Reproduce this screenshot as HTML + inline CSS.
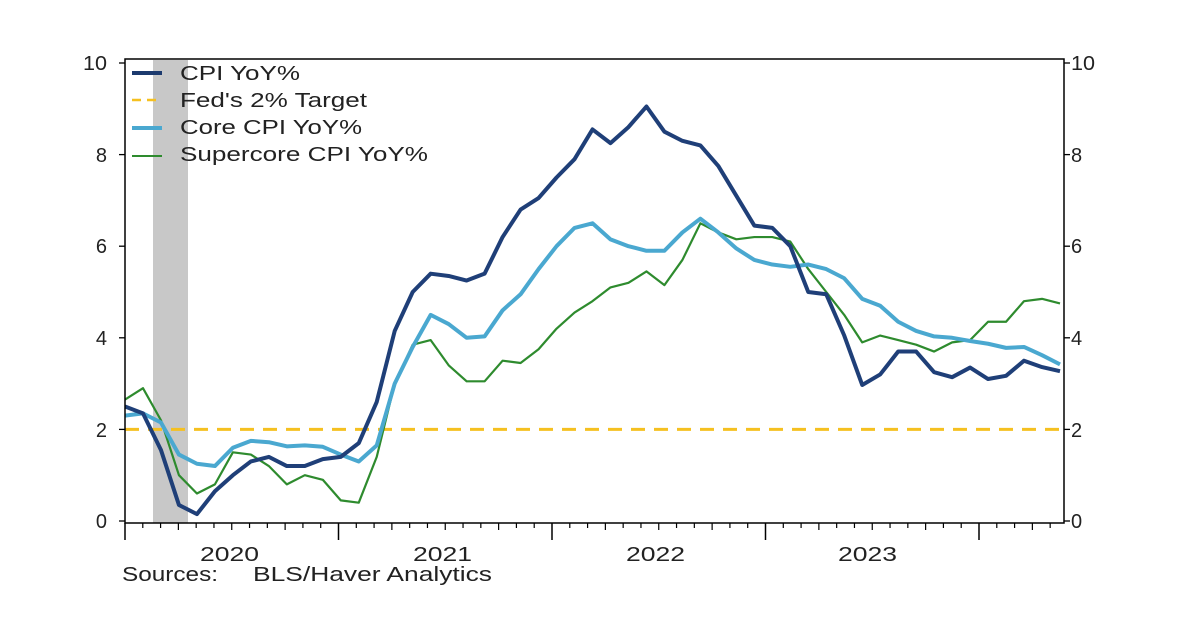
<!DOCTYPE html>
<html><head><style>
body{margin:0;background:#fff}
svg{display:block;font-family:"Liberation Sans",Arial,sans-serif}
</style></head><body>
<svg id="s" width="1200" height="627" viewBox="0 0 1200 627" xmlns="http://www.w3.org/2000/svg">
<rect width="1200" height="627" fill="#fff"/>
<rect x="153" y="60" width="35" height="463" fill="#c8c8c8"/>
<g id="g"></g>
<rect x="125" y="59" width="939" height="464" fill="none" stroke="#000" stroke-width="1.5"/>
<g font-size="20" fill="#222" lengthAdjust="spacingAndGlyphs">
<text x="107" y="70" text-anchor="end" textLength="24" lengthAdjust="spacingAndGlyphs">10</text>
<text x="107" y="162" text-anchor="end">8</text>
<text x="107" y="253" text-anchor="end">6</text>
<text x="107" y="345" text-anchor="end">4</text>
<text x="107" y="437" text-anchor="end">2</text>
<text x="107" y="528" text-anchor="end">0</text>
<text x="1071" y="70" textLength="24" lengthAdjust="spacingAndGlyphs">10</text>
<text x="1071" y="162">8</text>
<text x="1071" y="253">6</text>
<text x="1071" y="345">4</text>
<text x="1071" y="437">2</text>
<text x="1071" y="528">0</text>
<text x="200" y="561" textLength="59" lengthAdjust="spacingAndGlyphs">2020</text>
<text x="413" y="561" textLength="59" lengthAdjust="spacingAndGlyphs">2021</text>
<text x="626" y="561" textLength="59" lengthAdjust="spacingAndGlyphs">2022</text>
<text x="838" y="561" textLength="59" lengthAdjust="spacingAndGlyphs">2023</text>
<text x="122" y="581" textLength="96" lengthAdjust="spacingAndGlyphs">Sources:</text>
<text x="253" y="581" textLength="239" lengthAdjust="spacingAndGlyphs">BLS/Haver Analytics</text>
</g>
<g font-size="20" fill="#222">
<line x1="132" y1="73" x2="162" y2="73" stroke="#1c3a6e" stroke-width="4"/>
<text x="180" y="80" textLength="120" lengthAdjust="spacingAndGlyphs">CPI YoY%</text>
<line x1="132" y1="100" x2="162" y2="100" stroke="#f5c020" stroke-width="2.5" stroke-dasharray="9,6"/>
<text x="180" y="107" textLength="187" lengthAdjust="spacingAndGlyphs">Fed's 2% Target</text>
<line x1="132" y1="128" x2="162" y2="128" stroke="#4aa8d0" stroke-width="4"/>
<text x="180" y="134" textLength="182" lengthAdjust="spacingAndGlyphs">Core CPI YoY%</text>
<line x1="132" y1="156" x2="162" y2="156" stroke="#2e8b2e" stroke-width="2"/>
<text x="180" y="161" textLength="248" lengthAdjust="spacingAndGlyphs">Supercore CPI YoY%</text>
</g>
</svg>
<script>
var g=document.getElementById('g'),NS='http://www.w3.org/2000/svg';
function Y(v){return 521-v*45.8}
function X(i){return 125+i*935/52}
function el(t,a){var e=document.createElementNS(NS,t);for(var k in a)e.setAttribute(k,a[k]);g.appendChild(e);return e}
for(var v=0;v<=10;v+=2){el('line',{x1:119,y1:Y(v),x2:125,y2:Y(v),stroke:'#000','stroke-width':1.3});el('line',{x1:1064,y1:Y(v),x2:1070,y2:Y(v),stroke:'#000','stroke-width':1.3});}
var m=(979-125)/48;
for(var i=0;i<=53;i++){var x=125+i*m;if(x>1066)break;var maj=i%12==0,q=i%3==0;
el('line',{x1:x,y1:523,x2:x,y2:maj?540:(q?530:528),stroke:'#000','stroke-width':maj?1.5:1.2});}
el('line',{x1:125,y1:Y(2),x2:1062,y2:Y(2),stroke:'#f5c020','stroke-width':3,'stroke-dasharray':'14,9'});
var sc=[2.65,2.9,2.2,1.0,0.6,0.8,1.5,1.45,1.2,0.8,1.0,0.9,0.45,0.4,1.4,3.0,3.85,3.95,3.4,3.05,3.05,3.5,3.45,3.75,4.2,4.55,4.8,5.1,5.2,5.45,5.15,5.7,6.5,6.3,6.15,6.2,6.2,6.1,5.5,5.0,4.5,3.9,4.05,3.95,3.85,3.7,3.9,3.95,4.35,4.35,4.8,4.85,4.75];
var core=[2.3,2.35,2.15,1.45,1.25,1.2,1.6,1.75,1.72,1.63,1.65,1.62,1.45,1.3,1.65,3.0,3.8,4.5,4.3,4.0,4.03,4.6,4.95,5.5,6.0,6.4,6.5,6.15,6.0,5.9,5.9,6.3,6.6,6.3,5.95,5.7,5.6,5.55,5.6,5.5,5.3,4.85,4.7,4.35,4.15,4.03,4.0,3.93,3.87,3.78,3.8,3.62,3.42];
var cpi=[2.5,2.35,1.55,0.35,0.15,0.65,1.0,1.3,1.4,1.2,1.2,1.35,1.4,1.7,2.6,4.15,5.0,5.4,5.35,5.25,5.4,6.2,6.8,7.05,7.5,7.9,8.55,8.25,8.6,9.05,8.5,8.3,8.2,7.75,7.1,6.45,6.4,6.0,5.0,4.95,4.05,2.97,3.2,3.7,3.7,3.25,3.14,3.35,3.1,3.17,3.5,3.36,3.27];
function pl(d,c,w){el('polyline',{points:d.map(function(v,i){return X(i)+','+Y(v)}).join(' '),fill:'none',stroke:c,'stroke-width':w,'stroke-linejoin':'round'})}
pl(sc,'#2e8b2e',2.2);pl(core,'#4aa8d0',4);pl(cpi,'#1f3f78',4);
</script>
</body></html>
